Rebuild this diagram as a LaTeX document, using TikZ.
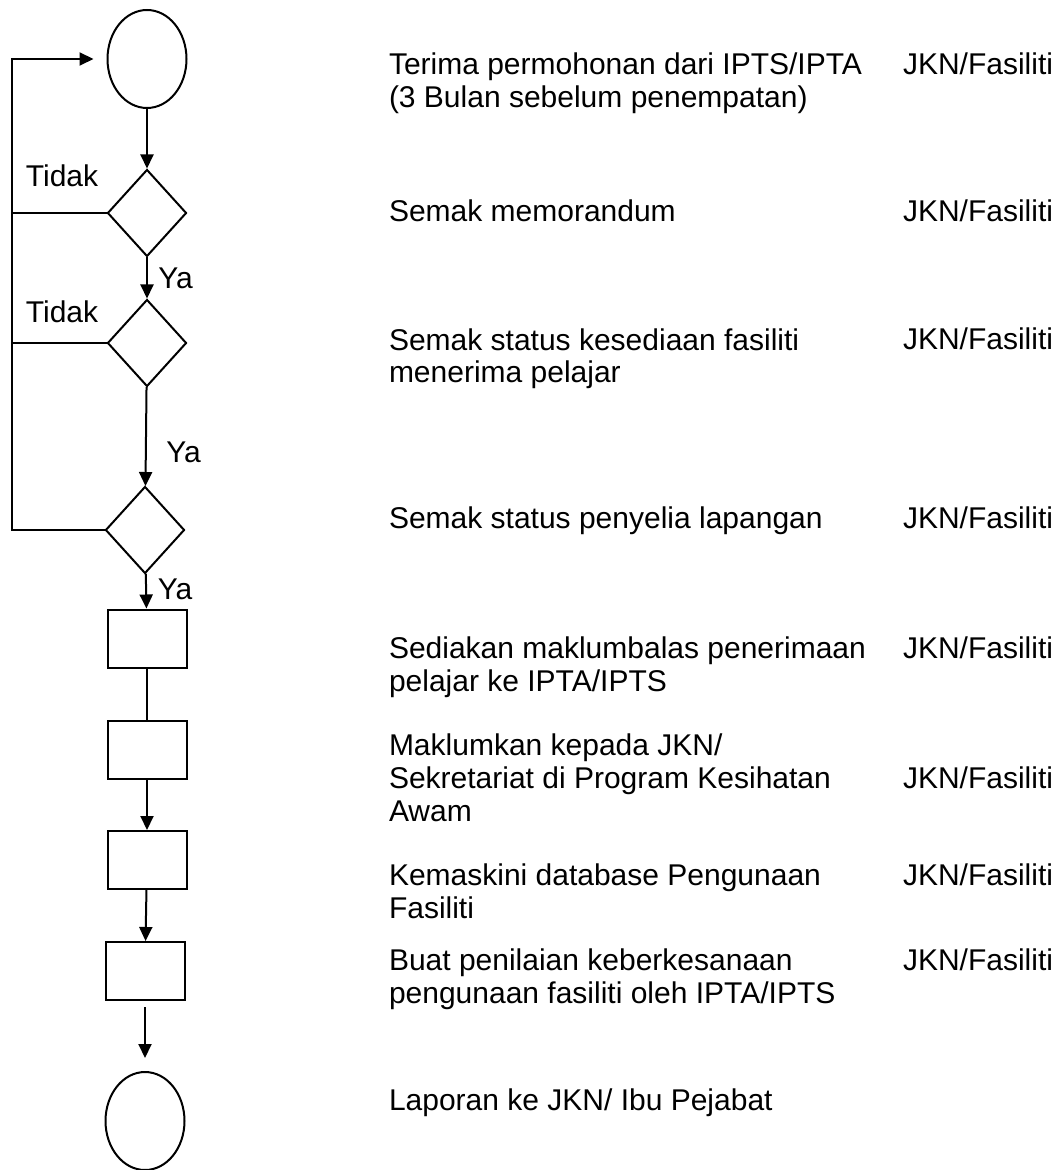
\documentclass[tikz,border=0pt]{standalone}
\usepackage{fontspec}
\setmainfont{Liberation Sans}
\usetikzlibrary{shapes.geometric,arrows.meta,positioning}

\tikzset{
  terminal/.style={draw, ellipse, minimum width=39.5pt, minimum height=49pt, inner sep=0},
  semak/.style={draw, diamond, minimum width=39.5pt, minimum height=43.5pt, inner sep=0},
  kotak/.style={draw, rectangle, minimum width=39.5pt, minimum height=29pt, inner sep=0},
  teks/.style={anchor=base west, inner sep=0, align=left}
}

\begin{document}
\begin{tikzpicture}[x=0.5pt, y=-0.5pt, line width=1pt,
    >={Triangle[width=6.5pt,length=7pt]},
    every node/.style={font=\fontsize{15pt}{16.5pt}\selectfont}]
      \useasboundingbox (0,0) rectangle (1056,1170);

      % flow
      \node[terminal] (mula) at (147,59) {};
      \node[semak] (semak1) at (147,213) {};
      \node[semak] (semak2) at (147,343) {};
      \node[semak] (semak3) at (145,530) {};
      \node[kotak] (kotak1) at (147,638.5) {};
      \node[kotak] (kotak2) at (147,749.5) {};
      \node[kotak] (kotak3) at (147,860) {};
      \node[kotak] (kotak4) at (145,971) {};
      \node[terminal] (tamat) at (145,1121) {};
      \coordinate (kiri) at (12,530);

      \draw[->] (mula) -- (semak1);
      \draw[->] (semak1) -- (semak2);
      \draw[->] (semak2) -- (semak3);
      \draw[->] (semak3) -- (kotak1);
      \draw (kotak1) -- (kotak2);
      \draw[->] (kotak2) -- (kotak3);
      \draw[->] (kotak3) -- (kotak4);
      \draw[->, shorten <=3pt, shorten >=6.5pt] (kotak4) -- (tamat);

      % back to start
      \draw (semak1.west) -- (semak1.west -| kiri);
      \draw (semak2.west) -- (semak2.west -| kiri);
      \draw[->, shorten >=6.5pt] (semak3.west) -- (kiri) |- (mula.west);

      \node (tidak1) at (62,176) {Tidak};
      \node (tidak2) at (62,312) {Tidak};
      \node (ya1) at (175.5,278) {Ya};
      \node (ya2) at (183.5,452) {Ya};
      \node (ya3) at (175,589) {Ya};

      % steps (base = last line)
      \node[teks] (t1) at (388,108) {Terima permohonan dari IPTS/IPTA\\(3 Bulan sebelum penempatan)};
      \node[teks] (t2) at (388,222) {Semak memorandum};
      \node[teks] (t3) at (388,383) {Semak status kesediaan fasiliti\\menerima pelajar};
      \node[teks] (t4) at (388,528) {Semak status penyelia lapangan};
      \node[teks] (t5) at (388,691) {Sediakan maklumbalas penerimaan\\pelajar ke IPTA/IPTS};
      \node[teks] (t6) at (388,821) {Maklumkan kepada JKN/\\Sekretariat di Program Kesihatan\\Awam};
      \node[teks] (t7) at (388,918) {Kemaskini database Pengunaan\\Fasiliti};
      \node[teks] (t8) at (388,1003) {Buat penilaian keberkesanaan\\pengunaan fasiliti oleh IPTA/IPTS};
      \node[teks] (t9) at (388,1110) {Laporan ke JKN/ Ibu Pejabat};

      \foreach \y [count=\i] in {75,222,350,528,658,788,885,970}
      {
	\node[teks] (pj\i) at (902,\y) {JKN/Fasiliti};
      }
\end{tikzpicture}
\end{document}
